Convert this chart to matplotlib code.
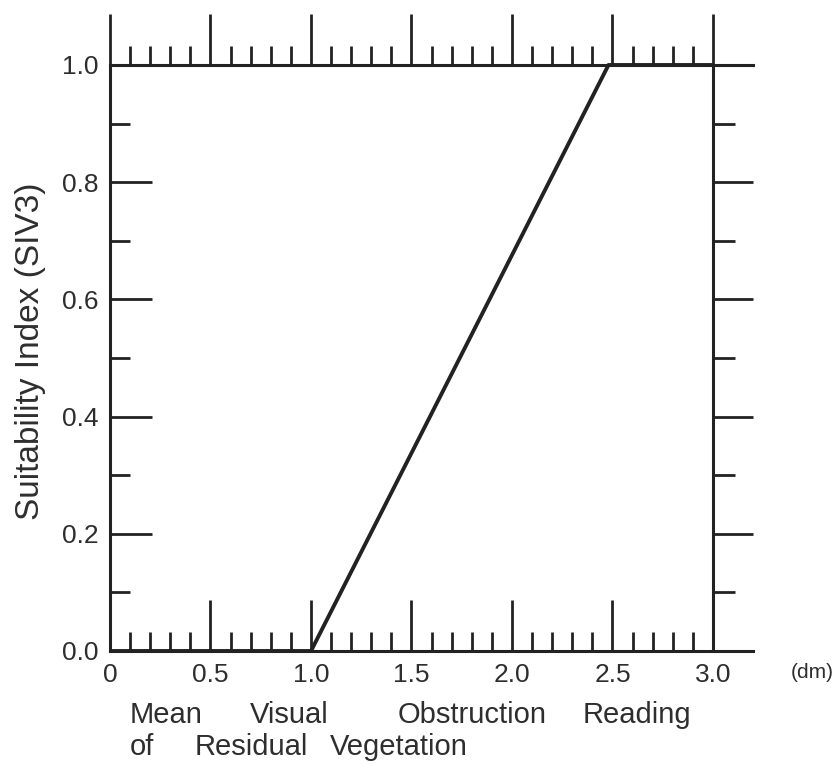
import matplotlib
matplotlib.use('Agg')
import matplotlib.pyplot as plt
from matplotlib.ticker import MultipleLocator, FixedLocator, FixedFormatter

# visual obstruction reading (dm) vs suitability index
obs_reading = [0.0, 1.0, 2.48, 3.0]
suit_index = [0.0, 0.0, 1.0, 1.0]

xtick_vals = [0.0, 0.5, 1.0, 1.5, 2.0, 2.5, 3.0]
xtick_labels = ['0', '0.5', '1.0', '1.5', '2.0', '2.5', '3.0']
ytick_vals = [0.0, 0.2, 0.4, 0.6, 0.8, 1.0]
ytick_labels = ['0.0', '0.2', '0.4', '0.6', '0.8', '1.0']

ylabel = 'Suitability Index (SIV3)'
xlabel_line1 = ['Mean', 'Visual', 'Obstruction', 'Reading']
xlabel_line2 = ['of', 'Residual', 'Vegetation']
unit_label = '(dm)'

ink = '#222222'
txt = '#2e2e2e'
plt.rcParams['font.family'] = ['Liberation Sans', 'DejaVu Sans']

W, H = 836, 764
fig = plt.figure(figsize=(W/100, H/100), dpi=100)
ax = fig.add_axes([110/W, 113/H, 603/W, 586/H])
ax.set_xlim(0, 3)
ax.set_ylim(0, 1)

ax.plot(obs_reading, suit_index, color=ink, lw=2.8, solid_capstyle='butt', clip_on=False, zorder=5)

# frame: top/bottom lines run past the right edge
for s in ['top', 'bottom', 'left', 'right']:
    ax.spines[s].set_linewidth(2.2)
    ax.spines[s].set_color(ink)
ax.spines['top'].set_bounds(0, 3.2)
ax.spines['bottom'].set_bounds(0, 3.2)

# bottom ticks point up into the plot, left ticks point right into the plot
ax.xaxis.set_major_locator(FixedLocator(xtick_vals))
ax.xaxis.set_major_formatter(FixedFormatter(xtick_labels))
ax.xaxis.set_minor_locator(MultipleLocator(0.1))
ax.yaxis.set_major_locator(FixedLocator(ytick_vals))
ax.yaxis.set_major_formatter(FixedFormatter(ytick_labels))
ax.yaxis.set_minor_locator(MultipleLocator(0.1))
ax.tick_params(axis='x', which='both', direction='in', top=False, color=ink, width=2.0)
ax.tick_params(axis='x', which='major', length=37, pad=9, labelsize=19, labelcolor=txt)
ax.tick_params(axis='x', which='minor', length=13.5)
ax.tick_params(axis='y', which='both', direction='in', right=False, color=ink, width=2.0)
ax.tick_params(axis='y', which='major', length=30, pad=8, labelsize=19, labelcolor=txt)
ax.tick_params(axis='y', which='minor', length=14.5)

# top ticks point up, right ticks point outward
top = ax.secondary_xaxis('top')
top.xaxis.set_major_locator(FixedLocator(xtick_vals))
top.xaxis.set_minor_locator(MultipleLocator(0.1))
top.tick_params(which='both', direction='out', color=ink, width=2.0, labeltop=False)
top.tick_params(which='major', length=37)
top.tick_params(which='minor', length=14)
top.spines['top'].set_visible(False)

right = ax.secondary_yaxis('right')
right.yaxis.set_major_locator(FixedLocator(ytick_vals))
right.yaxis.set_minor_locator(MultipleLocator(0.1))
right.tick_params(which='both', direction='out', color=ink, width=2.0, labelright=False)
right.tick_params(which='major', length=29)
right.tick_params(which='minor', length=16)
right.spines['right'].set_visible(False)

fig.text(31/W, 1 - 351/H, ylabel, rotation=90, ha='center', va='center',
         fontsize=24, color=txt)
fig.text(812/W, 1 - 673/H, unit_label, ha='center', va='center', fontsize=15, color=txt)

# x label words are spread out like the original
line1_x = [130, 250, 398, 583]
line2_x = [130, 195, 330]
for w, px in zip(xlabel_line1, line1_x):
    fig.text(px/W, 1 - 723/H, w, ha='left', va='baseline', fontsize=21, color=txt)
for w, px in zip(xlabel_line2, line2_x):
    fig.text(px/W, 1 - 755/H, w, ha='left', va='baseline', fontsize=21, color=txt)

fig.savefig('out.png', dpi=100)
